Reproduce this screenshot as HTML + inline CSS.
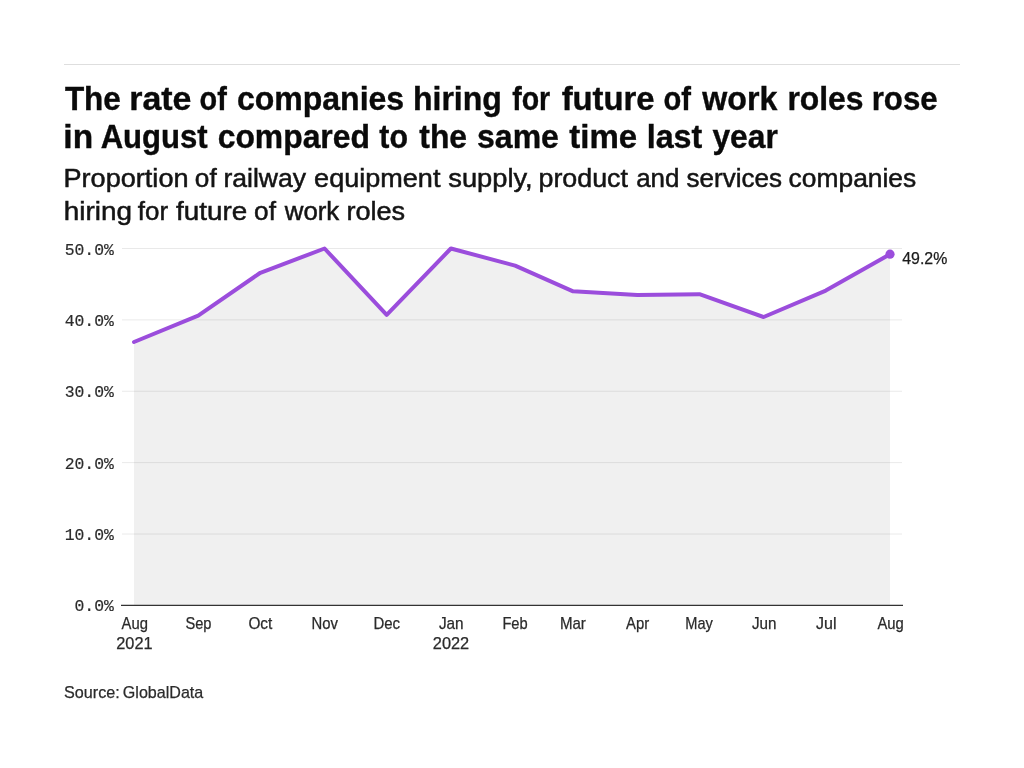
<!DOCTYPE html>
<html lang="en"><head><meta charset="utf-8">
<title>The rate of companies hiring for future of work roles rose in August compared to the same time last year</title>
<style>
html,body{margin:0;padding:0;background:#fff;}
body{width:1024px;height:768px;overflow:hidden;}
svg{display:block;will-change:transform;transform:translateZ(0);}
text{font-family:"Liberation Sans",sans-serif;}
.title text{font-weight:bold;font-size:34px;fill:#0a0a0a;stroke:#0a0a0a;stroke-width:0.4px;}
.sub text{font-size:25.5px;fill:#141414;stroke:#141414;stroke-width:0.5px;}
.ylab text{font-family:"Liberation Mono",monospace;font-size:17.3px;fill:#2b2b2b;stroke:#2b2b2b;stroke-width:.2px;text-anchor:end;}
.xlab text{font-size:15.7px;fill:#2b2b2b;stroke:#2b2b2b;stroke-width:0.25px;}
.src text{font-size:17px;fill:#2b2b2b;stroke:#2b2b2b;stroke-width:.25px;}
.end text{font-size:16px;fill:#1c1c1c;stroke:#1c1c1c;stroke-width:.25px;}
</style></head><body>
<svg width="1024" height="768" viewBox="0 0 1024 768">
<rect x="0" y="0" width="1024" height="768" fill="#ffffff"/>
<line x1="64" x2="960" y1="64.5" y2="64.5" stroke="#dedede" stroke-width="1"/>
<g class="title">
<text x="64.89" y="110" textLength="55.95" lengthAdjust="spacingAndGlyphs">The</text>
<text x="129.25" y="110" textLength="62.23" lengthAdjust="spacingAndGlyphs">rate</text>
<text x="199.55" y="110" textLength="27.22" lengthAdjust="spacingAndGlyphs">of</text>
<text x="236.92" y="110" textLength="167.22" lengthAdjust="spacingAndGlyphs">companies</text>
<text x="412.96" y="110" textLength="88.92" lengthAdjust="spacingAndGlyphs">hiring</text>
<text x="512.20" y="110" textLength="37.97" lengthAdjust="spacingAndGlyphs">for</text>
<text x="561.63" y="110" textLength="93.01" lengthAdjust="spacingAndGlyphs">future</text>
<text x="663.54" y="110" textLength="27.48" lengthAdjust="spacingAndGlyphs">of</text>
<text x="702.28" y="110" textLength="74.99" lengthAdjust="spacingAndGlyphs">work</text>
<text x="787.38" y="110" textLength="76.21" lengthAdjust="spacingAndGlyphs">roles</text>
<text x="871.67" y="110" textLength="65.97" lengthAdjust="spacingAndGlyphs">rose</text>
</g>
<g class="title">
<text x="63.36" y="148.1" textLength="29.74" lengthAdjust="spacingAndGlyphs">in</text>
<text x="100.67" y="148.1" textLength="107.06" lengthAdjust="spacingAndGlyphs">August</text>
<text x="217.68" y="148.1" textLength="152.26" lengthAdjust="spacingAndGlyphs">compared</text>
<text x="379.32" y="148.1" textLength="28.66" lengthAdjust="spacingAndGlyphs">to</text>
<text x="419.30" y="148.1" textLength="47.78" lengthAdjust="spacingAndGlyphs">the</text>
<text x="477.08" y="148.1" textLength="81.76" lengthAdjust="spacingAndGlyphs">same</text>
<text x="569.29" y="148.1" textLength="67.88" lengthAdjust="spacingAndGlyphs">time</text>
<text x="646.69" y="148.1" textLength="55.53" lengthAdjust="spacingAndGlyphs">last</text>
<text x="712.46" y="148.1" textLength="65.32" lengthAdjust="spacingAndGlyphs">year</text>
</g>
<g class="sub">
<text x="63.51" y="186.5" textLength="125.04" lengthAdjust="spacingAndGlyphs">Proportion</text>
<text x="194.89" y="186.5" textLength="21.84" lengthAdjust="spacingAndGlyphs">of</text>
<text x="223.46" y="186.5" textLength="82.59" lengthAdjust="spacingAndGlyphs">railway</text>
<text x="314.10" y="186.5" textLength="126.35" lengthAdjust="spacingAndGlyphs">equipment</text>
<text x="448.25" y="186.5" textLength="84.44" lengthAdjust="spacingAndGlyphs">supply,</text>
<text x="538.51" y="186.5" textLength="89.46" lengthAdjust="spacingAndGlyphs">product</text>
<text x="636.15" y="186.5" textLength="43.25" lengthAdjust="spacingAndGlyphs">and</text>
<text x="686.53" y="186.5" textLength="95.38" lengthAdjust="spacingAndGlyphs">services</text>
<text x="788.63" y="186.5" textLength="127.57" lengthAdjust="spacingAndGlyphs">companies</text>
</g>
<g class="sub">
<text x="63.80" y="220" textLength="68.22" lengthAdjust="spacingAndGlyphs">hiring</text>
<text x="137.86" y="220" textLength="30.27" lengthAdjust="spacingAndGlyphs">for</text>
<text x="176.08" y="220" textLength="71.16" lengthAdjust="spacingAndGlyphs">future</text>
<text x="254.14" y="220" textLength="21.84" lengthAdjust="spacingAndGlyphs">of</text>
<text x="284.75" y="220" textLength="54.47" lengthAdjust="spacingAndGlyphs">work</text>
<text x="346.42" y="220" textLength="58.78" lengthAdjust="spacingAndGlyphs">roles</text>
</g>
<polygon fill="#f0f0f0" points="134.00,605.40 134.00,342.01 198.21,315.60 260.35,272.77 324.55,248.50 386.69,314.88 450.90,248.50 515.11,265.63 573.10,291.33 637.31,294.90 699.45,294.18 763.65,317.02 825.79,290.61 890.00,254.21 890.00,605.40"/>
<g stroke="#000" stroke-opacity="0.085" stroke-width="1">
<line x1="122" x2="902" y1="534.02" y2="534.02"/>
<line x1="122" x2="902" y1="462.64" y2="462.64"/>
<line x1="122" x2="902" y1="391.26" y2="391.26"/>
<line x1="122" x2="902" y1="319.88" y2="319.88"/>
<line x1="122" x2="902" y1="248.50" y2="248.50"/>
</g>
<line x1="121" x2="903" y1="605.40" y2="605.40" stroke="#333" stroke-width="1.3"/>
<g class="ylab">
<text x="113.9" y="611.40" textLength="39.40" lengthAdjust="spacingAndGlyphs">0.0%</text>
<text x="113.9" y="540.02" textLength="49.25" lengthAdjust="spacingAndGlyphs">10.0%</text>
<text x="113.9" y="468.64" textLength="49.25" lengthAdjust="spacingAndGlyphs">20.0%</text>
<text x="113.9" y="397.26" textLength="49.25" lengthAdjust="spacingAndGlyphs">30.0%</text>
<text x="113.9" y="325.88" textLength="49.25" lengthAdjust="spacingAndGlyphs">40.0%</text>
<text x="113.9" y="254.50" textLength="49.25" lengthAdjust="spacingAndGlyphs">50.0%</text>
</g>
<polyline fill="none" stroke="#9b4ddc" stroke-width="4" stroke-linejoin="round" stroke-linecap="round" points="134.00,342.01 198.21,315.60 260.35,272.77 324.55,248.50 386.69,314.88 450.90,248.50 515.11,265.63 573.10,291.33 637.31,294.90 699.45,294.18 763.65,317.02 825.79,290.61 890.00,254.21"/>
<circle cx="890.00" cy="254.21" r="4.6" fill="#9b4ddc"/>
<g class="end">
<text x="902.27" y="263.7" textLength="45.07" lengthAdjust="spacingAndGlyphs">49.2%</text>
</g>
<g class="xlab">
<text x="121.59" y="629" textLength="26.34" lengthAdjust="spacingAndGlyphs">Aug</text>
<text x="185.47" y="629" textLength="26.02" lengthAdjust="spacingAndGlyphs">Sep</text>
<text x="248.40" y="629" textLength="23.85" lengthAdjust="spacingAndGlyphs">Oct</text>
<text x="311.40" y="629" textLength="26.46" lengthAdjust="spacingAndGlyphs">Nov</text>
<text x="373.39" y="629" textLength="26.66" lengthAdjust="spacingAndGlyphs">Dec</text>
<text x="438.89" y="629" textLength="24.76" lengthAdjust="spacingAndGlyphs">Jan</text>
<text x="502.41" y="629" textLength="25.31" lengthAdjust="spacingAndGlyphs">Feb</text>
<text x="559.88" y="629" textLength="25.97" lengthAdjust="spacingAndGlyphs">Mar</text>
<text x="626.09" y="629" textLength="23.13" lengthAdjust="spacingAndGlyphs">Apr</text>
<text x="685.32" y="629" textLength="27.58" lengthAdjust="spacingAndGlyphs">May</text>
<text x="751.90" y="629" textLength="24.50" lengthAdjust="spacingAndGlyphs">Jun</text>
<text x="815.98" y="629" textLength="20.49" lengthAdjust="spacingAndGlyphs">Jul</text>
<text x="877.49" y="629" textLength="26.34" lengthAdjust="spacingAndGlyphs">Aug</text>
</g>
<g class="xlab">
<text x="116.21" y="649" textLength="36.38" lengthAdjust="spacingAndGlyphs">2021</text>
<text x="432.81" y="649" textLength="36.42" lengthAdjust="spacingAndGlyphs">2022</text>
</g>
<g class="src">
<text x="64.00" y="698.4" textLength="55.76" lengthAdjust="spacingAndGlyphs">Source:</text>
<text x="122.82" y="698.4" textLength="80.46" lengthAdjust="spacingAndGlyphs">GlobalData</text>
</g>
</svg></body></html>
